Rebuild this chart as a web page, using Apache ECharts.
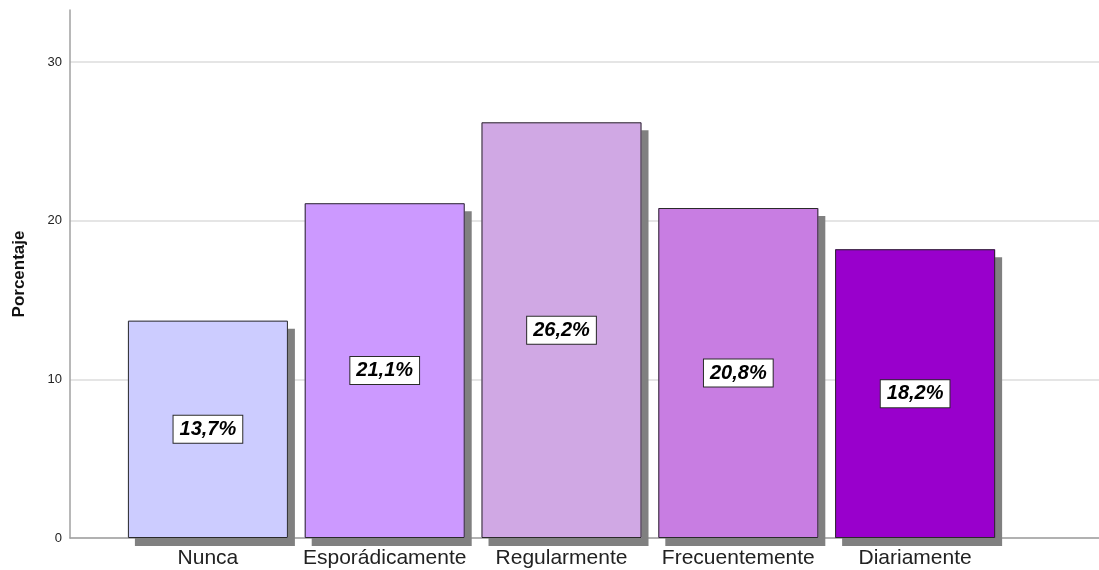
<!DOCTYPE html>
<html>
<head>
<meta charset="utf-8">
<script src="https://cdn.jsdelivr.net/npm/echarts@6/dist/echarts.min.js"></script>
<style>
html,body{margin:0;padding:0;background:#fff;}
#chart{width:1099px;height:570px;}
</style>
</head>
<body>
<div id="chart"></div>
<script>
const categories = ['Nunca', 'Esporádicamente', 'Regularmente', 'Frecuentemente', 'Diariamente'];
const values = [13.7, 21.1, 26.2, 20.8, 18.2];
const barColors = ['#ccccff', '#cc99ff', '#d0a8e4', '#c87de2', '#9900cc'];
const yTicks = [0, 10, 20, 30];
const yName = 'Porcentaje';

const chart = echarts.init(document.getElementById('chart'), null, {renderer: 'canvas'});
const font = '"Liberation Sans", Arial, sans-serif';

const option = {
  animation: false,
  backgroundColor: '#ffffff',
  grid: {left: 70, right: 0, top: 10, bottom: 32, containLabel: false},
  xAxis: {
    type: 'value',
    min: -0.78,
    max: 5.04,
    axisLine: {show: true, onZero: false, lineStyle: {color: '#a0a0a0', width: 1.5}},
    axisTick: {show: false},
    splitLine: {show: false},
    axisLabel: {
      customValues: categories.map((c, i) => i),
      formatter: v => categories[Math.round(v)] || '',
      color: '#222',
      fontSize: 21,
      fontFamily: font,
      margin: 10
    }
  },
  yAxis: {
    type: 'value',
    min: 0,
    max: 33.28,
    interval: 10,
    name: yName,
    nameLocation: 'middle',
    nameRotate: 90,
    nameGap: 42,
    nameTextStyle: {fontSize: 17, fontWeight: 'bold', color: '#111', fontFamily: font},
    axisLine: {show: true, onZero: false, lineStyle: {color: '#a0a0a0', width: 1.5}},
    axisTick: {show: false},
    axisLabel: {
      customValues: yTicks,
      color: '#222', fontSize: 13, fontFamily: font, margin: 8
    },
    splitLine: {show: true, showMaxLine: false, lineStyle: {color: ['#dcdcdc', '#dcdcdc', '#dcdcdc', '#dcdcdc', 'rgba(0,0,0,0)'], width: 1.5}}
  },
  series: [{
    type: 'bar',
    barWidth: 160,
    barGap: '-100%',
    z: 2,
    data: values.map((v, i) => ({
      value: [i, v],
      itemStyle: {color: barColors[i]}
    })),
    itemStyle: {
      borderWidth: 0,
      shadowColor: '#808080',
      shadowBlur: 0,
      shadowOffsetX: 7,
      shadowOffsetY: 8
    }
  }, {
    type: 'bar',
    barWidth: 160,
    barGap: '-100%',
    z: 3,
    data: values.map((v, i) => [i, v]),
    itemStyle: {
      color: 'rgba(0,0,0,0)',
      borderColor: '#2a2a2a',
      borderWidth: 1
    },
    label: {
      show: true,
      position: 'inside',
      formatter: p => p.value[1].toFixed(1).replace('.', ',') + '%',
      color: '#000',
      fontSize: 20,
      fontWeight: 'bold',
      fontStyle: 'italic',
      fontFamily: font,
      backgroundColor: '#ffffff',
      borderColor: '#2a2a2a',
      borderWidth: 1,
      padding: [4, 6, 3, 6]
    }
  }]
};
chart.setOption(option);
</script>
</body>
</html>
